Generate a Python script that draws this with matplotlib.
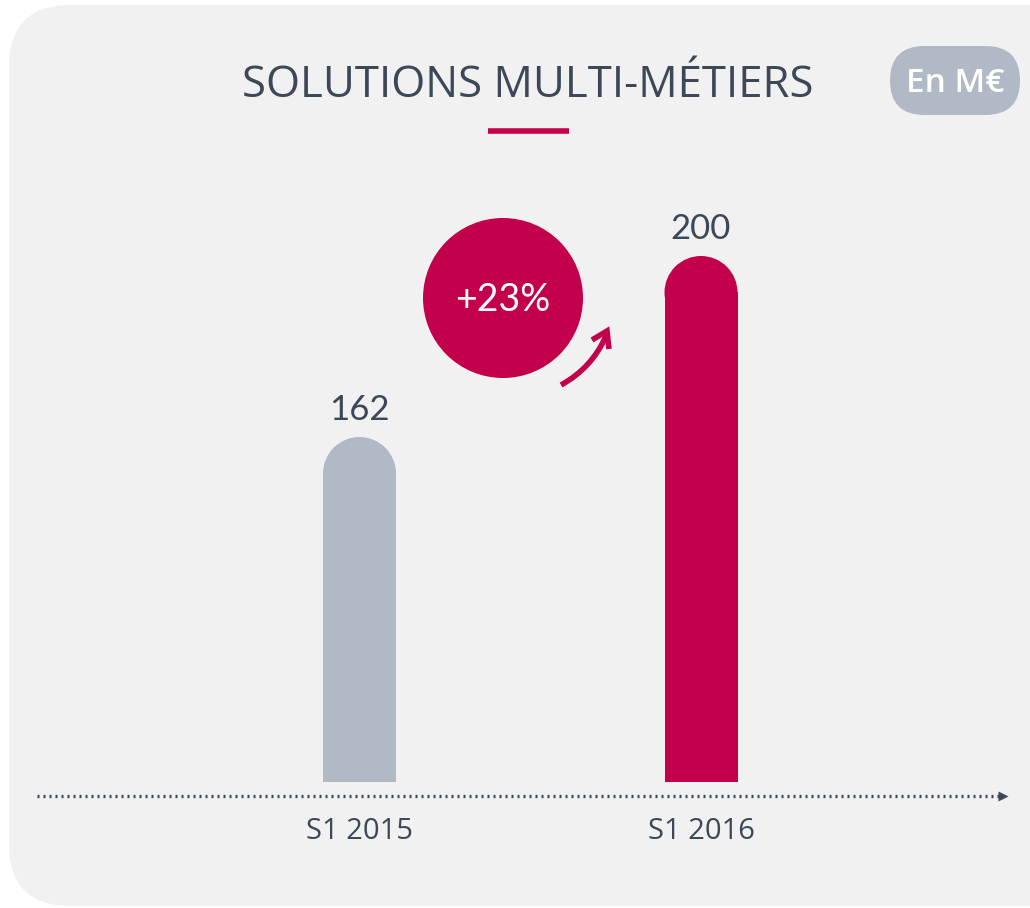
import matplotlib.pyplot as plt
from matplotlib.patches import FancyBboxPatch, Ellipse, Circle, PathPatch
from matplotlib.path import Path

# data
periods = ['S1 2015', 'S1 2016']
revenue = [162, 200]
growth_label = '+23%'
title = 'SOLUTIONS MULTI-MÉTIERS'
unit = 'En M€'

grey = '#b1b9c6'
red = '#c3004b'
dark = '#3c4757'
panel = '#f1f1f1'

W, H = 1030, 908
fig = plt.figure(figsize=(W / 100, H / 100), dpi=100, facecolor='white')

# background layer in pixel coordinates
bg = fig.add_axes([0, 0, 1, 1], zorder=0)
bg.set_xlim(0, W)
bg.set_ylim(H, 0)
bg.axis('off')

bg.add_patch(FancyBboxPatch((9, 5), 1200, 901, boxstyle='round,pad=0,rounding_size=62',
                            fc=panel, ec='none'))

bg.text(528, 86, title, ha='center', va='center', fontsize=31.5,
        family='Open Sans', color=dark)
bg.plot([488, 569], [131, 131], color=red, lw=4, solid_capstyle='butt')

bg.add_patch(FancyBboxPatch((890, 46), 130, 69, boxstyle='round,pad=0,rounding_size=34.5',
                            fc=grey, ec='none'))
bg.text(955, 83, unit, ha='center', va='center', fontsize=24, fontweight='semibold',
        family='Open Sans', color='white')

# dotted baseline with arrow tip
bg.plot([37, 1000], [796, 796], color=dark, lw=2.4, linestyle=(0, (0.6, 1.2)))
bg.plot([1003], [796], marker='>', color=dark, markersize=7, mec='none')

# growth bubble and curved arrow
bg.add_patch(Circle((503, 298), 80, fc=red, ec='none'))
bg.text(503, 300, growth_label, ha='center', va='center', fontsize=27,
        family='Lato', color='white')
curve = Path([(561, 385), (592, 368), (606, 336)], [Path.MOVETO, Path.CURVE3, Path.CURVE3])
bg.add_patch(PathPatch(curve, fc='none', ec=red, lw=4, capstyle='butt'))
bg.plot([592, 607, 609], [340, 331, 349], color=red, lw=4, solid_joinstyle='miter',
        solid_capstyle='butt')

# bar chart axes: baseline pixel 782, 162 -> 437px, 200 -> 256px
y_base_px, y_top_px = 782, 200
scale = (437 - 256) / (revenue[1] - revenue[0])  # px per unit
v_base = revenue[0] - (y_base_px - 437) / scale
v_top = v_base + (y_base_px - y_top_px) / scale

ax = fig.add_axes([0, (H - y_base_px) / H, 1, (y_base_px - y_top_px) / H], zorder=1)
ax.patch.set_alpha(0)
xunit = 701 - 359.5
ax.set_xlim(-359.5 / xunit, (W - 359.5) / xunit)
ax.set_ylim(v_base, v_top)
for s in ax.spines.values():
    s.set_visible(False)
ax.set_yticks([])

bw = 73 / xunit
r_y = 36.5 / scale
colors = [grey, red]
x = list(range(len(periods)))
ax.bar(x, [v - r_y - v_base for v in revenue], bottom=v_base, width=bw, color=colors)
for xi, v, c in zip(x, revenue, colors):
    ax.add_patch(Ellipse((xi, v - r_y), bw, 2 * r_y, fc=c, ec='none'))
    ax.text(xi, v + 27 / scale, str(v), ha='center', va='center', fontsize=25,
            family='Lato', color=dark)

ax.set_xticks(x, periods)
ax.tick_params(axis='x', length=0, pad=25, labelsize=21, labelcolor=dark)
for lbl in ax.get_xticklabels():
    lbl.set_family('Open Sans')

fig.savefig('out.png', dpi=100, facecolor='white')
